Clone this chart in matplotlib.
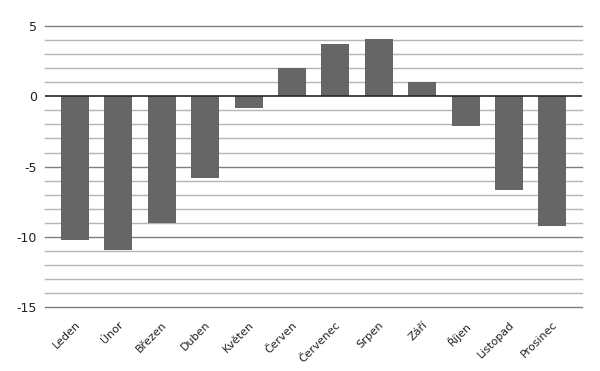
import matplotlib
matplotlib.use("Agg")
import matplotlib.pyplot as plt

# Données
mois = ["Leden", "Únor", "Březen", "Duben", "Květen", "Červen",
        "Červenec", "Srpen", "Září", "Říjen", "Listopad", "Prosinec"]
valeurs = [-10.2, -10.9, -9.0, -5.8, -0.8, 2.0,
           3.7, 4.1, 1.0, -2.1, -6.7, -9.2]
ticks_y = [-15, -10, -5, 0, 5]

fig = plt.figure(figsize=(6, 3.71), dpi=100)
ax = fig.add_axes([0.075, 0.172, 0.895, 0.758])

# Grille : lignes fines chaque unité, plus foncées tous les 5
for y in range(-15, 6):
    if y == 0:
        continue
    couleur = "#7f7f7f" if y % 5 == 0 else "#b4b4b4"
    ax.axhline(y, color=couleur, linewidth=1.0, zorder=0, clip_on=False)

x = list(range(len(mois)))
ax.bar(x, valeurs, width=0.645, color="#666666", zorder=2)
ax.axhline(0, color="#262626", linewidth=1.2, zorder=3)

ax.set_xlim(-0.69, 11.68)
ax.set_ylim(-15, 5)
ax.set_yticks(ticks_y)
ax.set_yticklabels([str(t) for t in ticks_y])
ax.set_xticks(x)
ax.set_xticklabels(mois, rotation=45, ha="right", rotation_mode="anchor")
ax.tick_params(axis="y", length=0, labelsize=9, colors="#222222", pad=6)
ax.tick_params(axis="x", length=0, labelsize=8, colors="#222222", pad=9)
for s in ax.spines.values():
    s.set_visible(False)

fig.savefig("out.png", dpi=100)
